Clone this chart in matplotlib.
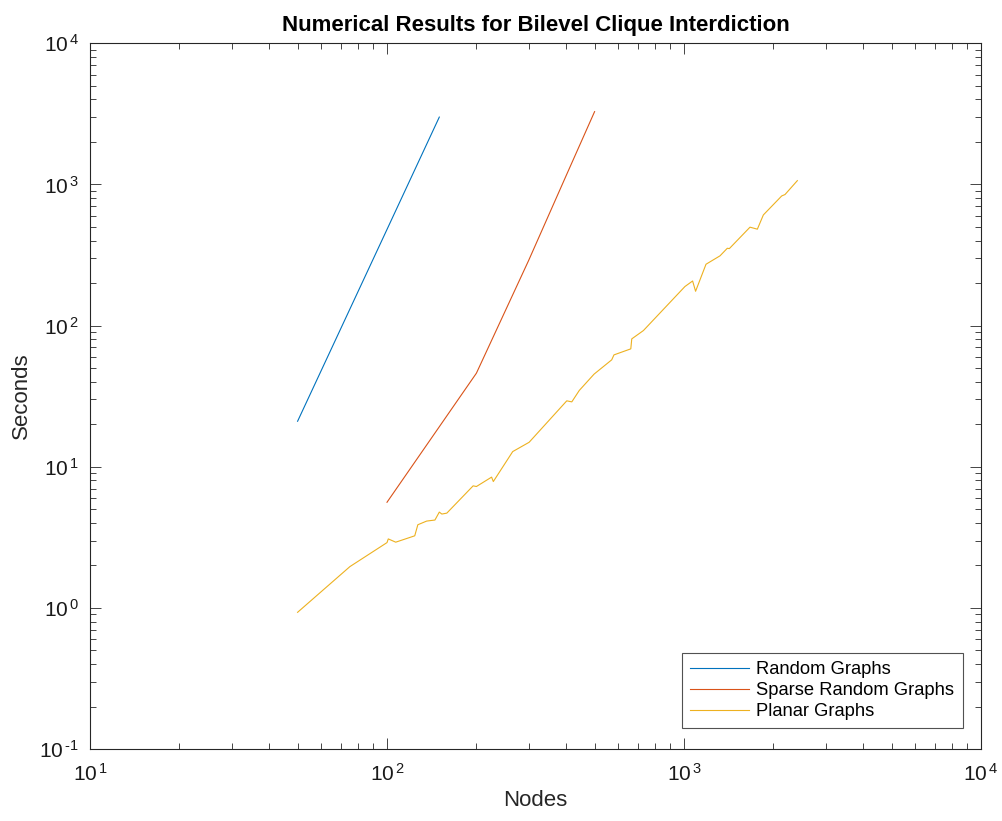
import math
import matplotlib
matplotlib.use("Agg")
import matplotlib.pyplot as plt
from matplotlib.ticker import LogLocator, FuncFormatter, NullFormatter

plt.rcParams['font.family'] = ['Liberation Sans', 'DejaVu Sans']
plt.rcParams['mathtext.fontset'] = 'custom'
plt.rcParams['mathtext.rm'] = 'Liberation Sans'
plt.rcParams['mathtext.it'] = 'Liberation Sans'
plt.rcParams['mathtext.bf'] = 'Liberation Sans:bold'

# Data
random_nodes = [50, 100, 150]
random_secs = [21, 480, 3000]

sparse_nodes = [100, 200, 300, 400, 500]
sparse_secs = [5.6, 46, 290, 1140, 3280]

planar_nodes = [50, 75, 100, 101, 107, 124, 127, 136, 145, 150, 153, 159, 195, 200,
                225, 228, 265, 301, 403, 419, 444, 498, 571, 581, 662, 667, 730,
                1007, 1069, 1094, 1186, 1322, 1399, 1421, 1668, 1766, 1850, 2133,
                2188, 2408]
planar_secs = [0.93, 1.96, 2.90, 3.08, 2.92, 3.24, 3.88, 4.12, 4.19, 4.77, 4.62, 4.69,
               7.32, 7.24, 8.44, 7.85, 12.8, 14.9, 29.3, 28.8, 34.7, 45.3, 57.2, 62.0,
               68.4, 80.5, 92.2, 189, 207, 175, 272, 312, 353, 351, 498, 482, 608,
               829, 848, 1064]

c_blue = (0, 0.447, 0.741)
c_red = (0.85, 0.325, 0.098)
c_yel = (0.929, 0.694, 0.125)
axcol = (0.15, 0.15, 0.15)

fig = plt.figure(figsize=(10.02, 8.21), dpi=100)
ax = fig.add_axes([90/1002, 1-749/821, (981-90)/1002, (749-43.3)/821])

ax.loglog(random_nodes, random_secs, color=c_blue, lw=0.8, label='Random Graphs')
ax.loglog(sparse_nodes, sparse_secs, color=c_red, lw=0.8, label='Sparse Random Graphs')
ax.loglog(planar_nodes, planar_secs, color=c_yel, lw=0.8, label='Planar Graphs')

ax.set_xlim(10, 1e4)
ax.set_ylim(0.1, 1e4)

def fmt(v, pos):
    e = int(round(math.log10(v)))
    es = str(e).replace('-', '\u2010')
    return r'$\mathregular{10^{\,%s}}$' % es

for a in (ax.xaxis, ax.yaxis):
    a.set_major_locator(LogLocator(base=10, numticks=10))
    a.set_minor_locator(LogLocator(base=10, subs=range(2, 10), numticks=10))
    a.set_major_formatter(FuncFormatter(fmt))
    a.set_minor_formatter(NullFormatter())

ax.tick_params(which='both', direction='in', top=True, right=True, colors=axcol,
               labelcolor=(0.1, 0.1, 0.1), labelsize=15, width=0.6)
ax.tick_params(which='major', length=8)
ax.tick_params(which='minor', length=4)
for s in ax.spines.values():
    s.set_color(axcol)
    s.set_linewidth(0.8)
ax.tick_params(axis='x', pad=10)
ax.tick_params(axis='y', pad=8)

ax.set_xlabel('Nodes', fontsize=16, color=(0.15, 0.15, 0.15), labelpad=4)
ax.set_ylabel('Seconds', fontsize=16, color=(0.15, 0.15, 0.15), labelpad=5)
ax.set_title('Numerical Results for Bilevel Clique Interdiction', fontsize=16,
             fontweight='bold', pad=9)

leg = ax.legend(loc='lower right', fontsize=13.2, frameon=True, fancybox=False,
                edgecolor=axcol, borderpad=0.45, handlelength=3.2, handletextpad=0.4,
                labelspacing=0.22, borderaxespad=0,
                bbox_to_anchor=(962.7/1002, 1-728.3/821), bbox_transform=fig.transFigure)
leg.get_frame().set_linewidth(0.8)

fig.savefig('out.png', dpi=100)
